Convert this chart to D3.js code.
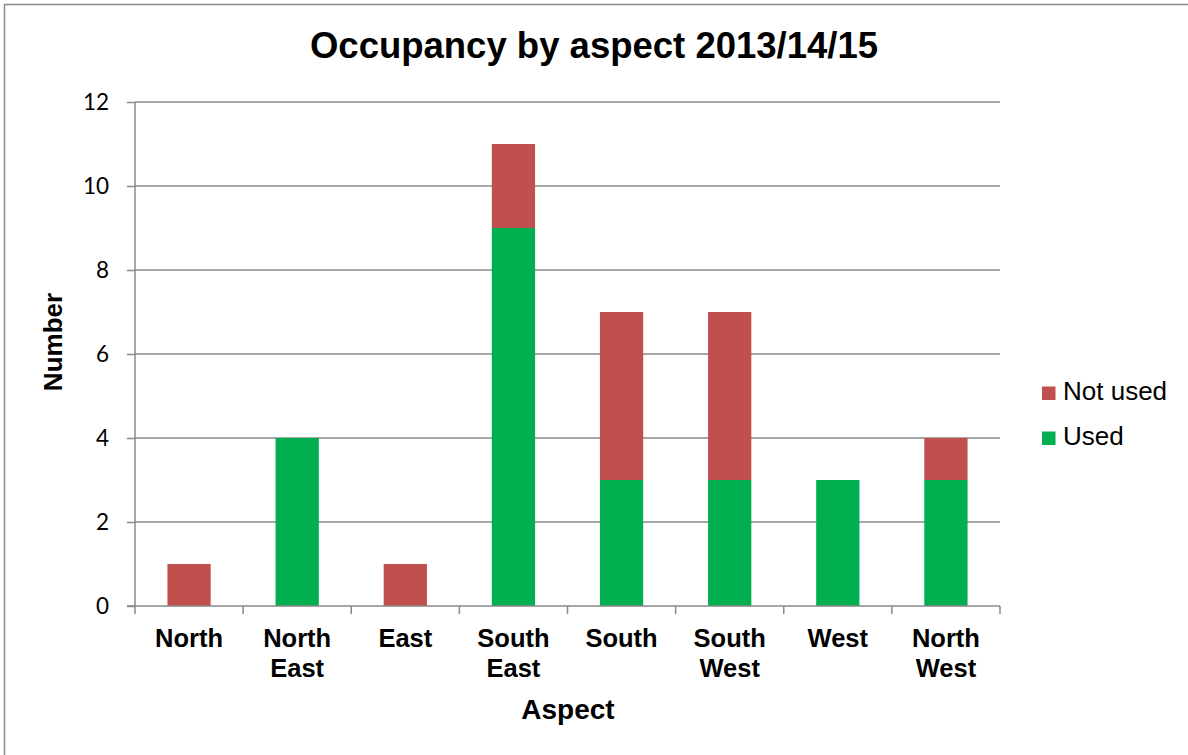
<!DOCTYPE html>
<html>
<head>
<meta charset="utf-8">
<script src="https://cdn.jsdelivr.net/npm/d3@7"></script>
<style>
  html, body { margin: 0; padding: 0; background: #fff; }
  svg { display: block; }
</style>
</head>
<body>
<svg id="chart" width="1188" height="755"></svg>
<script>
const categories = [["North"], ["North", "East"], ["East"], ["South", "East"], ["South"], ["South", "West"], ["West"], ["North", "West"]];
const usedValues = [0, 4, 0, 9, 3, 3, 3, 3];
const notUsedValues = [1, 0, 1, 2, 4, 4, 0, 1];
const yTicks = [0, 2, 4, 6, 8, 10, 12];
const seriesNames = ["Used", "Not used"];
const seriesColors = ["#00B050", "#C0504D"];

const svg = d3.select("#chart");
const plotL = 135, plotR = 1000, plotT = 102, plotB = 606;
const sansFont = "'Liberation Sans', Arial, sans-serif";

svg.append("rect").attr("x", 4.5).attr("y", 4.5).attr("width", 1200).attr("height", 800)
  .attr("fill", "#fff").attr("stroke", "#8c8c8c").attr("stroke-width", 1.5);

const keys = categories.map((c, i) => i);
const x = d3.scaleBand().domain(keys).range([plotL, plotR]).paddingInner(0.6).paddingOuter(0.3);
const xEdge = d3.scaleLinear().domain([0, categories.length]).range([plotL, plotR]);
const y = d3.scaleLinear().domain([0, 12]).range([plotB, plotT]);

const gridColor = "#898989";
// gridlines
svg.append("g").selectAll("line").data(yTicks.filter(t => t > 0)).join("line")
  .attr("x1", plotL).attr("x2", plotR).attr("y1", d => y(d)).attr("y2", d => y(d))
  .attr("stroke", gridColor).attr("stroke-width", 1.5);

// stacked bars
const rows = keys.map(i => ({ i, Used: usedValues[i], "Not used": notUsedValues[i] }));
const stack = d3.stack().keys(seriesNames)(rows);
svg.append("g").selectAll("g").data(stack).join("g")
  .attr("fill", (d, k) => seriesColors[k])
  .selectAll("rect").data(d => d.filter(p => p[1] - p[0] > 0)).join("rect")
  .attr("x", d => x(d.data.i)).attr("width", x.bandwidth())
  .attr("y", d => y(d[1])).attr("height", d => y(d[0]) - y(d[1]));

// y axis
const yAxis = d3.axisLeft(y).tickValues(yTicks).tickSize(8).tickPadding(18);
const gy = svg.append("g").attr("transform", `translate(${plotL},0)`).call(yAxis);
gy.select(".domain").attr("stroke", gridColor).attr("stroke-width", 1.5).attr("d", `M0,${plotT}V${plotB}`);
gy.selectAll(".tick line").attr("stroke", gridColor).attr("stroke-width", 1.5);
gy.selectAll(".tick text").attr("font-family", "Lato, 'Open Sans', sans-serif").attr("font-size", 22.5).attr("fill", "#000");

// x axis
const gx = svg.append("g").attr("transform", `translate(0,${plotB})`);
gx.append("line").attr("x1", plotL - 8).attr("x2", plotR).attr("y1", 0).attr("y2", 0)
  .attr("stroke", gridColor).attr("stroke-width", 1.5);
gx.selectAll("line.tk").data(d3.range(categories.length + 1)).join("line").attr("class", "tk")
  .attr("x1", d => xEdge(d)).attr("x2", d => xEdge(d)).attr("y1", 0).attr("y2", 8)
  .attr("stroke", gridColor).attr("stroke-width", 1.5);
const labels = gx.selectAll("text").data(categories).join("text")
  .attr("text-anchor", "middle")
  .attr("font-family", sansFont).attr("font-weight", "bold").attr("font-size", 25.5)
  .attr("fill", "#000");
labels.selectAll("tspan").data((d, i) => d.map(s => ({ s, i }))).join("tspan")
  .attr("x", d => x(d.i) + x.bandwidth() / 2)
  .attr("y", (d, j) => 40.5 + j * 30.6)
  .text(d => d.s);

// title
svg.append("text").attr("x", 594).attr("y", 57.5).attr("text-anchor", "middle")
  .attr("font-family", sansFont).attr("font-weight", "bold").attr("font-size", 36.5)
  .attr("fill", "#000").text("Occupancy by aspect 2013/14/15");

// axis titles
svg.append("text").attr("x", 568).attr("y", 719).attr("text-anchor", "middle")
  .attr("font-family", sansFont).attr("font-weight", "bold").attr("font-size", 28)
  .attr("fill", "#000").text("Aspect");
svg.append("text").attr("transform", "translate(62,342) rotate(-90)").attr("text-anchor", "middle")
  .attr("font-family", sansFont).attr("font-weight", "bold").attr("font-size", 26)
  .attr("fill", "#000").text("Number");

// legend
const legendItems = [{ name: "Not used", color: seriesColors[1], yy: 400 }, { name: "Used", color: seriesColors[0], yy: 445 }];
const lg = svg.append("g").selectAll("g").data(legendItems).join("g");
lg.append("rect").attr("x", 1042).attr("y", d => d.yy - 13.5).attr("width", 13.5).attr("height", 13.5).attr("fill", d => d.color);
lg.append("text").attr("x", 1063).attr("y", d => d.yy)
  .attr("font-family", sansFont).attr("font-size", 26).attr("fill", "#000")
  .text(d => d.name);
</script>
</body>
</html>
